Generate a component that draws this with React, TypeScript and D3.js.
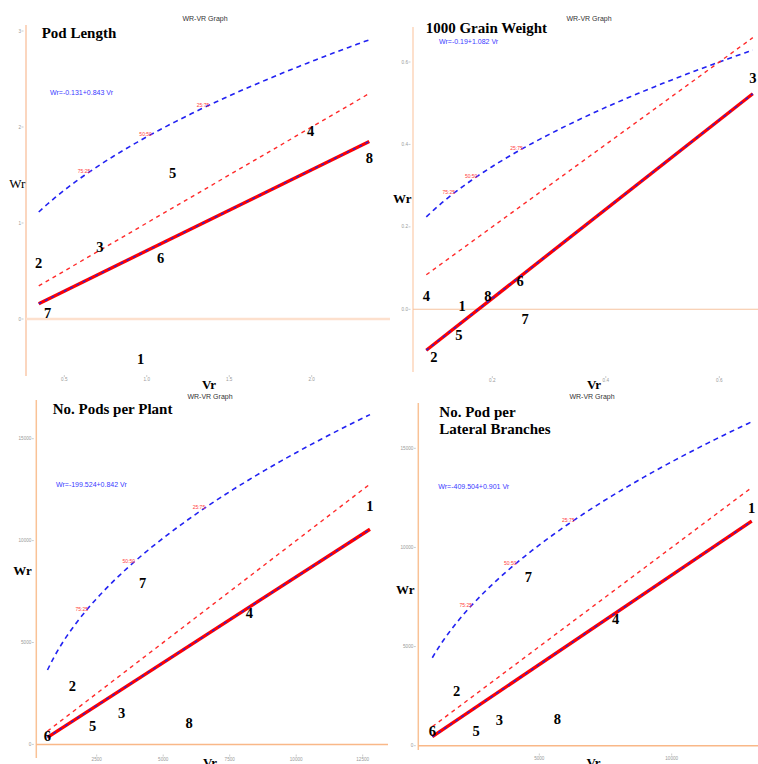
import React from 'react';
import * as d3 from 'd3';

// parent numbers, same order for every trait
const parents = ['1', '2', '3', '4', '5', '6', '7', '8'];
const ratioLabels = ['75:25', '50:50', '25:75'];

// Pod Length
const podLengthVr = [0.963, 0.345, 0.716, 1.993, 1.157, 1.084, 0.399, 2.349];
const podLengthWr = [-0.414, 0.58, 0.747, 1.958, 1.524, 0.639, 0.059, 1.674];
const podLengthFit = [-0.131, 0.843];
const podLengthVp = 3.6;
const podLengthRatioAt = [0.652, 1.025, 1.373];
const podLengthXTicks = ['0.5', '1.0', '1.5', '2.0'];
const podLengthYTicks = ['0', '1', '2', '3'];

// 1000 Grain Weight
const grainVr = [0.147, 0.097, 0.659, 0.0837, 0.141, 0.249, 0.258, 0.192];
const grainWr = [0.008, -0.115, 0.562, 0.032, -0.062, 0.069, -0.024, 0.032];
const grainFit = [-0.19, 1.082];
const grainVp = 0.6;
const grainRatioAt = [0.1325, 0.172, 0.252];
const grainXTicks = ['0.2', '0.4', '0.6'];
const grainYTicks = ['0.0', '0.2', '0.4', '0.6'];

// No. Pods per Plant
const podsPlantVr = [12774, 1583, 3440, 8237, 2350, 650, 4229, 5970];
const podsPlantWr = [11706, 2868, 1559, 6431, 922, 431, 7902, 1069];
const podsPlantFit = [-199.524, 0.842];
const podsPlantVp = 20500;
const podsPlantRatioAt = [2137, 3902, 6541];
const podsPlantXTicks = ['2500', '5000', '7500', '10000', '12500'];
const podsPlantYTicks = ['0', '5000', '10000', '15000'];

// No. Pod per Lateral Branches
const lateralVr = [13021, 1881, 3489, 7885, 2610, 960, 4585, 5680];
const lateralWr = [11999, 2734, 1309, 6380, 755, 720, 8525, 1360];
const lateralFit = [-409.504, 0.901];
const lateralVp = 20500;
const lateralRatioAt = [2421, 4101, 6292];
const lateralXTicks = ['5000', '10000'];
const lateralYTicks = ['0', '5000', '10000', '15000'];

const SERIF = '"Liberation Serif", "Times New Roman", serif';
const SANS = '"Liberation Sans", Arial, sans-serif';

interface PanelProps {
  title: string[];
  titlePos: [number, number];
  lineGap?: number;
  vr: number[];
  wr: number[];
  fit: number[];
  vp: number;
  ratioAt: number[];
  xTicks: string[];
  yTicks: string[];
  xDomain: [number, number];
  xRange: [number, number];
  yDomain: [number, number];
  yRange: [number, number];
  axisX: number;
  axisTop: number;
  axisBottom: number;
  zeroEnd: number;
  tickY: number;
  graphTitle: [number, number];
  eqPos: [number, number];
  wrPos: [number, number];
  wrBold: boolean;
  vrPos: [number, number];
  axisColor: string;
  axisWidth: number;
  zeroColor: string;
  zeroWidth: number;
}

const Panel: React.FC<PanelProps> = (p) => {
  const x = d3.scaleLinear().domain(p.xDomain).range(p.xRange);
  const y = d3.scaleLinear().domain(p.yDomain).range(p.yRange);

  const [lo, hi] = d3.extent(p.vr) as [number, number];
  const [a, b] = p.fit;
  const parabola = (v: number) => Math.sqrt(p.vp * v);

  const line = d3.line<number[]>().x(d => x(d[0])).y(d => y(d[1]));
  const samples = d3.range(0, 81).map(i => lo + ((hi - lo) * i) / 80);

  const regPath = line([[lo, a + b * lo], [hi, a + b * hi]]) ?? '';
  const unitPath = line([[lo, lo], [hi, hi]]) ?? '';
  const parPath = line(samples.map(v => [v, parabola(v)])) ?? '';

  const tickFont = 4.6;

  return (
    <g>
      <text x={p.graphTitle[0]} y={p.graphTitle[1]} textAnchor="middle" dominantBaseline="central"
        fontFamily={SANS} fontSize={7} fill="#333">WR-VR Graph</text>

      {/* axis lines */}
      <line x1={p.axisX} x2={p.axisX} y1={p.axisTop} y2={p.axisBottom}
        stroke={p.axisColor} strokeWidth={p.axisWidth} />
      <line x1={p.axisX} x2={p.zeroEnd} y1={y(0)} y2={y(0)}
        stroke={p.zeroColor} strokeWidth={p.zeroWidth} />

      {/* y ticks */}
      {p.yTicks.map(t => (
        <g key={'y' + t}>
          <line x1={p.axisX - 4.5} x2={p.axisX - 2.5} y1={y(+t)} y2={y(+t)} stroke="#aaa" strokeWidth={0.6} />
          <text x={p.axisX - 5} y={y(+t)} textAnchor="end" dominantBaseline="central"
            fontFamily={SANS} fontSize={tickFont} fill="#999">{t}</text>
        </g>
      ))}
      {/* x ticks */}
      {p.xTicks.map(t => (
        <g key={'x' + t}>
          <line x1={x(+t)} x2={x(+t)} y1={p.tickY - 1} y2={p.tickY + 1} stroke="#aaa" strokeWidth={0.6} />
          <text x={x(+t)} y={p.tickY + 3.5} textAnchor="middle" dominantBaseline="central"
            fontFamily={SANS} fontSize={tickFont} fill="#999">{t}</text>
        </g>
      ))}

      {/* limiting parabola */}
      <path d={parPath} fill="none" stroke="#2222f2" strokeWidth={1.6} strokeDasharray="5 4" />
      {/* unit slope line */}
      <path d={unitPath} fill="none" stroke="#ff2a2a" strokeWidth={1.4} strokeDasharray="4 4" />
      {/* regression line */}
      <path d={regPath} fill="none" stroke="#ff0000" strokeWidth={3.4} />
      <path d={regPath} fill="none" stroke="#3020d0" strokeWidth={1.5} strokeDasharray="3 4" />

      {ratioLabels.map((r, i) => (
        <text key={r} x={x(p.ratioAt[i]) + 1} y={y(parabola(p.ratioAt[i])) - 1} textAnchor="end"
          dominantBaseline="central" fontFamily={SANS} fontSize={5} fill="#ff3b3b">{r}</text>
      ))}

      <text x={p.eqPos[0]} y={p.eqPos[1]} dominantBaseline="central" fontFamily={SANS}
        fontSize={7} fill="#3a3aff">{`Wr=${a}+${b} Vr`}</text>

      {parents.map((n, i) => (
        <text key={n} x={x(p.vr[i])} y={y(p.wr[i])} textAnchor="middle" dominantBaseline="central"
          fontFamily={SERIF} fontWeight="bold" fontSize={14.5} fill="#000">{n}</text>
      ))}

      {p.title.map((t, i) => (
        <text key={t} x={p.titlePos[0]} y={p.titlePos[1] + i * (p.lineGap ?? 0)}
          fontFamily={SERIF} fontWeight="bold" fontSize={15} fill="#000">{t}</text>
      ))}

      <text x={p.wrPos[0]} y={p.wrPos[1]} dominantBaseline="central" fontFamily={SERIF}
        fontWeight={p.wrBold ? 'bold' : 'normal'} fontSize={13} fill="#000">Wr</text>
      <text x={p.vrPos[0]} y={p.vrPos[1]} textAnchor="middle" fontFamily={SERIF}
        fontWeight="bold" fontSize={13} fill="#000">Vr</text>
    </g>
  );
};

export default function App() {
  return (
    <div style={{ position: 'absolute', left: 0, top: 0 }}>
      <svg width={758} height={764} style={{ display: 'block', background: '#fff' }}>
        <Panel
          title={['Pod Length']} titlePos={[41.7, 37.5]}
          vr={podLengthVr} wr={podLengthWr} fit={podLengthFit} vp={podLengthVp}
          ratioAt={podLengthRatioAt} xTicks={podLengthXTicks} yTicks={podLengthYTicks}
          xDomain={[0.5, 2.0]} xRange={[64.3, 311.7]} yDomain={[0, 3]} yRange={[319, 31]}
          axisX={26} axisTop={25} axisBottom={376} zeroEnd={390} tickY={376}
          graphTitle={[205, 18]} eqPos={[50, 92.7]} wrPos={[9.3, 183.7]} wrBold={false}
          vrPos={[209, 388.6]} axisColor="#fbd6bf" axisWidth={2} zeroColor="#fde0cd" zeroWidth={2.6}
        />
        <Panel
          title={['1000 Grain Weight']} titlePos={[425.7, 32.7]}
          vr={grainVr} wr={grainWr} fit={grainFit} vp={grainVp}
          ratioAt={grainRatioAt} xTicks={grainXTicks} yTicks={grainYTicks}
          xDomain={[0.2, 0.6]} xRange={[492.3, 719.3]} yDomain={[0, 0.6]} yRange={[309.3, 62]}
          axisX={413} axisTop={27} axisBottom={372} zeroEnd={758} tickY={377}
          graphTitle={[589, 18]} eqPos={[439, 41]} wrPos={[393, 198]} wrBold={true}
          vrPos={[594, 389]} axisColor="#fde0cc" axisWidth={2} zeroColor="#f6c39f" zeroWidth={1.1}
        />
        <Panel
          title={['No. Pods per Plant']} titlePos={[52.7, 413.7]}
          vr={podsPlantVr} wr={podsPlantWr} fit={podsPlantFit} vp={podsPlantVp}
          ratioAt={podsPlantRatioAt} xTicks={podsPlantXTicks} yTicks={podsPlantYTicks}
          xDomain={[2500, 12500]} xRange={[96.7, 362.7]} yDomain={[0, 15000]} yRange={[744.4, 438.7]}
          axisX={36.3} axisTop={400} axisBottom={758} zeroEnd={388} tickY={755.5}
          graphTitle={[210, 396]} eqPos={[56, 484.3]} wrPos={[13.3, 570.7]} wrBold={true}
          vrPos={[210, 766.5]} axisColor="#f9c296" axisWidth={1.5} zeroColor="#f9b888" zeroWidth={1.5}
        />
        <Panel
          title={['No. Pod per', 'Lateral Branches']} titlePos={[439.3, 417.3]} lineGap={17}
          vr={lateralVr} wr={lateralWr} fit={lateralFit} vp={lateralVp}
          ratioAt={lateralRatioAt} xTicks={lateralXTicks} yTicks={lateralYTicks}
          xDomain={[5000, 10000]} xRange={[539.3, 671.7]} yDomain={[0, 15000]} yRange={[745.7, 448.3]}
          axisX={418.3} axisTop={403} axisBottom={750} zeroEnd={758} tickY={754.5}
          graphTitle={[592, 396]} eqPos={[438.3, 486.7]} wrPos={[396, 589]} wrBold={true}
          vrPos={[593.5, 766.5]} axisColor="#f9c296" axisWidth={1.5} zeroColor="#f9b888" zeroWidth={1.5}
        />
      </svg>
    </div>
  );
}
